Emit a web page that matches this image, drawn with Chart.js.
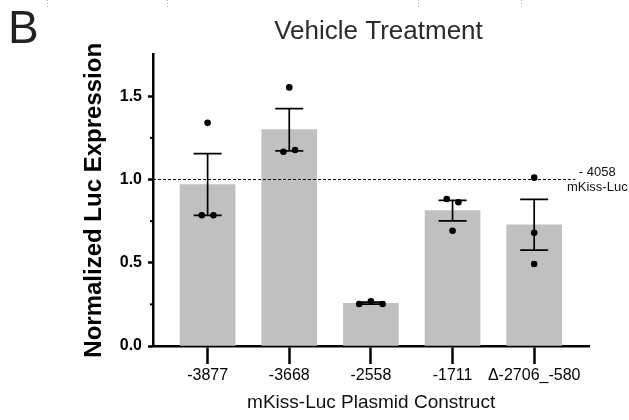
<!DOCTYPE html>
<html>
<head>
<meta charset="utf-8">
<script src="https://cdn.jsdelivr.net/npm/chart.js@4.4.1/dist/chart.umd.min.js"></script>
<style>
  html, body { margin: 0; padding: 0; background: #fff; }
  #wrap { width: 629px; height: 420px; position: relative; }
</style>
</head>
<body>
<div id="wrap"><canvas id="c" width="629" height="420"></canvas></div>
<script>
// Plasmid constructs on the x axis
const constructs = ['-3877', '-3668', '-2558', '-1711', 'Δ-2706_-580'];
// Mean normalized luciferase expression and SEM per construct
const meanExpression = [0.970, 1.299, 0.257, 0.813, 0.728];
const semExpression  = [0.185, 0.127, 0.006, 0.061, 0.152];
// Individual replicates per construct
const replicate1 = [1.340, 1.553, 0.252, 0.883, 1.011];
const replicate2 = [0.785, 1.167, 0.268, 0.692, 0.680];
const replicate3 = [0.785, 1.177, 0.252, 0.863, 0.492];
// Y axis ticks
const yTickValues = [0, 0.5, 1.0, 1.5];
const yMinorTickValues = [0.25, 0.75, 1.25];
// Reference level of the full-length -4058 reporter
const referenceLevel = 1.0;
const referenceLabel = ['- 4058', 'mKiss-Luc'];

const FONT = "'Liberation Sans', Arial, Helvetica, sans-serif";

// Spread replicates that overlap vertically so each dot stays visible
const SPREAD_STEP = 0.143;   // x-units between neighbouring dots
const OVERLAP = 0.06;        // y-units considered overlapping
function replicatePoints() {
  const pts = [];
  constructs.forEach((_, i) => {
    const vals = [replicate1[i], replicate2[i], replicate3[i]];
    const idx = vals.map((v, k) => k).sort((a, b) => vals[a] - vals[b]);
    const clusters = [];
    idx.forEach(k => {
      const last = clusters[clusters.length - 1];
      if (last && vals[k] - vals[last[last.length - 1]] < OVERLAP) last.push(k);
      else clusters.push([k]);
    });
    clusters.forEach(cl => {
      cl.sort((a, b) => a - b);
      cl.forEach((k, j) => {
        pts.push({ x: i + (j - (cl.length - 1) / 2) * SPREAD_STEP, y: vals[k] });
      });
    });
  });
  return pts;
}

const extras = {
  id: 'extras',
  afterDatasetDraw(chart, args) {
    if (args.index !== 0) return;
    const { ctx, chartArea, scales: { x, y } } = chart;
    ctx.save();
    // dashed reference line
    const ry = y.getPixelForValue(referenceLevel);
    ctx.strokeStyle = '#000';
    ctx.lineWidth = 1;
    ctx.setLineDash([3, 2]);
    ctx.beginPath();
    ctx.moveTo(chartArea.left, ry);
    ctx.lineTo(chartArea.right - 14, ry);
    ctx.stroke();
    ctx.setLineDash([]);
    // SEM error bars
    ctx.lineWidth = 1.7;
    meanExpression.forEach((m, i) => {
      const px = x.getPixelForValue(i);
      const top = y.getPixelForValue(m + semExpression[i]);
      const bot = y.getPixelForValue(m - semExpression[i]);
      ctx.beginPath();
      ctx.moveTo(px, top); ctx.lineTo(px, bot);
      ctx.moveTo(px - 14, top); ctx.lineTo(px + 14, top);
      ctx.moveTo(px - 14, bot); ctx.lineTo(px + 14, bot);
      ctx.stroke();
    });
    ctx.restore();
  },
  afterDraw(chart) {
    const { ctx, chartArea, scales: { y } } = chart;
    ctx.save();
    // minor ticks on the y axis
    ctx.strokeStyle = '#000';
    ctx.lineWidth = 2;
    yMinorTickValues.forEach(v => {
      const py = y.getPixelForValue(v);
      ctx.beginPath();
      ctx.moveTo(chartArea.left - 3, py);
      ctx.lineTo(chartArea.left, py);
      ctx.stroke();
    });
    // reference label
    const ry = y.getPixelForValue(referenceLevel);
    ctx.fillStyle = '#111';
    ctx.font = '13px ' + FONT;
    ctx.textAlign = 'center';
    ctx.textBaseline = 'middle';
    ctx.fillText(referenceLabel[0], chartArea.right + 8, ry - 7);
    ctx.fillText(referenceLabel[1], chartArea.right + 8, ry + 7.5);
    // chart title
    ctx.fillStyle = '#2b2b2b';
    ctx.font = '26px ' + FONT;
    ctx.textBaseline = 'alphabetic';
    ctx.fillText('Vehicle Treatment', 378.5, 39);
    // panel letter
    ctx.textAlign = 'left';
    ctx.font = '46px ' + FONT;
    ctx.fillStyle = '#222';
    ctx.fillText('B', 8, 43);
    // crop marks along the top edge
    ctx.strokeStyle = '#b0b0b0';
    ctx.lineWidth = 1;
    ctx.setLineDash([1, 2]);
    [47, 167, 418, 521].forEach(cx => {
      ctx.beginPath();
      ctx.moveTo(cx + 0.5, 0);
      ctx.lineTo(cx + 0.5, 8);
      ctx.stroke();
    });
    ctx.restore();
  }
};

new Chart(document.getElementById('c'), {
  type: 'bar',
  data: {
    datasets: [
      {
        type: 'bar',
        label: 'Mean',
        data: meanExpression.map((v, i) => ({ x: i, y: v })),
        backgroundColor: '#c0c0c0',
        borderWidth: 0,
        barThickness: 55,
        order: 1
      },
      {
        type: 'scatter',
        label: 'Replicates',
        data: replicatePoints(),
        pointRadius: 3.3,
        pointBackgroundColor: '#000',
        pointBorderWidth: 0,
        showLine: false,
        clip: false,
        order: 0
      }
    ]
  },
  options: {
    responsive: false,
    devicePixelRatio: 1,
    animation: false,
    layout: { padding: { left: 76, top: 54.6, right: 39.7, bottom: 0 } },
    plugins: { legend: { display: false }, tooltip: { enabled: false }, title: { display: false } },
    scales: {
      x: {
        type: 'linear',
        min: -0.669,
        max: 4.675,
        offset: false,
        afterFit: s => { s.height = 74; },
        afterBuildTicks: s => { s.ticks = constructs.map((_, i) => ({ value: i })); },
        ticks: {
          callback: v => constructs[v],
          color: '#000',
          font: { family: FONT, size: 16 },
          padding: 2,
          maxRotation: 0,
          autoSkip: false
        },
        grid: { display: true, drawOnChartArea: false, offset: false, tickLength: 18, tickWidth: 2.5, tickColor: '#000' },
        border: { display: true, color: '#000', width: 2.5 },
        title: {
          display: true,
          text: 'mKiss-Luc Plasmid Construct',
          color: '#111',
          font: { family: FONT, size: 19 },
          padding: { top: 0, bottom: 5.6 }
        }
      },
      y: {
        type: 'linear',
        min: 0,
        max: 1.75,
        afterFit: s => { s.width = 77; },
        afterBuildTicks: s => { s.ticks = yTickValues.map(v => ({ value: v })); },
        ticks: {
          callback: v => v.toFixed(1),
          color: '#000',
          font: { family: FONT, size: 16, weight: 'bold' },
          padding: 6
        },
        grid: { display: true, drawOnChartArea: false, tickLength: 5, tickWidth: 2.5, tickColor: '#000' },
        border: { display: true, color: '#000', width: 2.5 },
        title: {
          display: true,
          text: 'Normalized Luc Expression',
          color: '#000',
          font: { family: FONT, size: 24, weight: 'bold' },
          padding: { top: 4, bottom: 0 }
        }
      }
    }
  },
  plugins: [extras]
});
</script>
</body>
</html>
